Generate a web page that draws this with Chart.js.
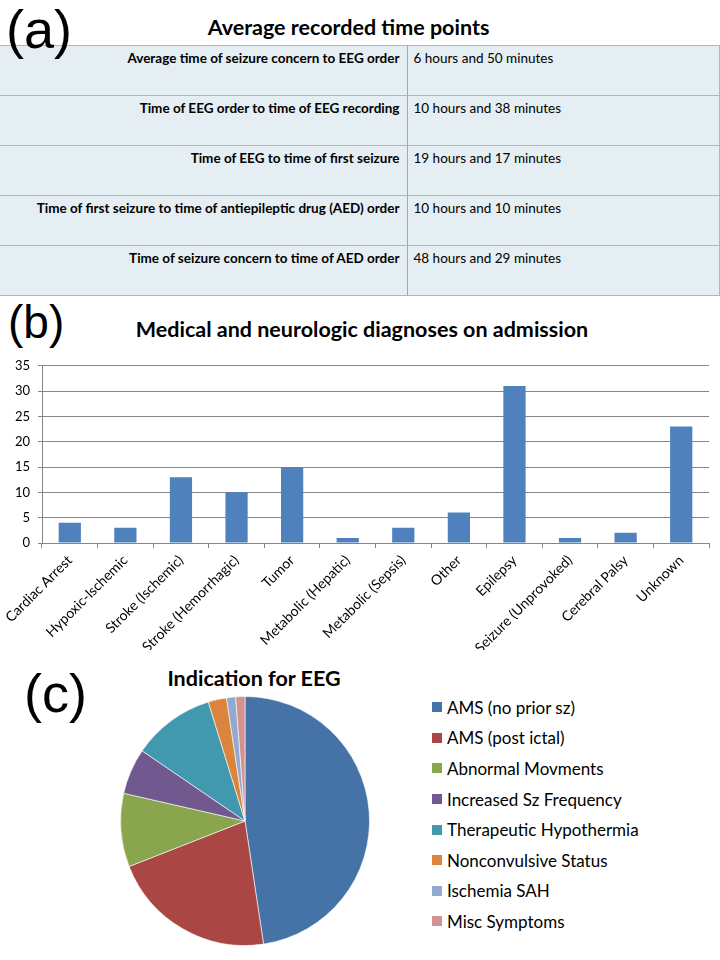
<!DOCTYPE html>
<html>
<head>
<meta charset="utf-8">
<script src="https://cdn.jsdelivr.net/npm/chart.js@4"></script>
<style>
  body { margin: 0; width: 720px; height: 960px; background: #fff; position: relative; overflow: hidden; font-family: Lato, "Open Sans", sans-serif; }
  .panel-tag { position: absolute; z-index: 2; font-family: "Liberation Sans", Arial, sans-serif; font-size: 54px; line-height: 54px; color: #000; }
  .title { position: absolute; font-family: Lato, sans-serif; font-weight: bold; font-size: 21.5px; color: #000; text-align: center; white-space: nowrap; }
  #times { position: absolute; left: 0; top: 45px; width: 719px; border-collapse: collapse; table-layout: fixed; }
  #times td { height: 45px; border-top: 1px solid #8fc2d7; border-bottom: 1px solid #8fc2d7; vertical-align: top; padding: 4px 0 0 0; white-space: nowrap; }
  #times tr:nth-child(odd) td { background: #e5eef2; }
  #times tr:nth-child(even) td { background: #d0e2ea; }
  #times td.lbl { text-align: right; padding-right: 7px; border-right: 1px solid #7fb6cc; font-family: Lato, sans-serif; font-weight: bold; font-size: 13.5px; }
  #times td.val { padding-left: 6px; font-family: Lato, sans-serif; font-size: 13.5px; border-right: 1px solid #8fc2d7; }
  #bars { position: absolute; left: 0; top: 350px; }
  #pie { position: absolute; left: 120px; top: 696px; }
  #legend { position: absolute; left: 432px; top: 692px; font-family: Lato, sans-serif; font-size: 17px; }
  #legend div { height: 30.6px; display: flex; align-items: center; white-space: nowrap; }
  #legend span.box { display: inline-block; width: 10px; height: 10px; margin-right: 5px; }
</style>
</head>
<body>
<div class="panel-tag" style="left:6px; top:2px;">(a)</div>
<div class="title" style="left:0; width:697px; top:14px;">Average recorded time points</div>
<table id="times"><colgroup><col style="width:407px"><col style="width:312px"></colgroup></table>

<div class="panel-tag" style="left:8px; top:299px; font-size:46px; line-height:46px;">(b)</div>
<div class="title" style="left:0; width:724px; top:316px;">Medical and neurologic diagnoses on admission</div>
<canvas id="bars" width="720" height="300"></canvas>

<div class="panel-tag" style="left:24px; top:666px;">(c)</div>
<div class="title" style="left:0; width:508px; top:665px;">Indication for EEG</div>
<canvas id="pie" width="250" height="250"></canvas>
<div id="legend"></div>

<script>
// (a) tabela de tempos
const timeLabels = [
  "Average time of seizure concern to EEG order",
  "Time of EEG order to time of EEG recording",
  "Time of EEG to time of first seizure",
  "Time of first seizure to time of antiepileptic drug (AED) order",
  "Time of seizure concern to time of AED order"
];
const timeValues = [
  "6 hours and 50 minutes",
  "10 hours and 38 minutes",
  "19 hours and 17 minutes",
  "10 hours and 10 minutes",
  "48 hours and 29 minutes"
];

// (b) diagnosticos
const diagnoses = ["Cardiac Arrest", "Hypoxic-Ischemic", "Stroke (Ischemic)", "Stroke (Hemorrhagic)", "Tumor",
  "Metabolic (Hepatic)", "Metabolic (Sepsis)", "Other", "Epilepsy", "Seizure (Unprovoked)", "Cerebral Palsy", "Unknown"];
const diagnosisCounts = [4, 3, 13, 10, 15, 1, 3, 6, 31, 1, 2, 23];

// (c) indicacao para EEG
const indications = ["AMS (no prior sz)", "AMS (post ictal)", "Abnormal Movments", "Increased Sz Frequency",
  "Therapeutic Hypothermia", "Nonconvulsive Status", "Ischemia SAH", "Misc Symptoms"];
const indicationCounts = [40, 18, 8, 5, 9, 2, 1, 1];
const pieColors = ["#4572a7", "#aa4643", "#89a54e", "#71588f", "#4198af", "#db843d", "#93a9cf", "#d19392"];

const table = document.getElementById("times");
timeLabels.forEach((lbl, i) => {
  table.innerHTML += `<tr><td class="lbl">${lbl}</td><td class="val">${timeValues[i]}</td></tr>`;
});

const gridGray = "#868686";

new Chart(document.getElementById("bars").getContext("2d"), {
  type: "bar",
  data: {
    labels: diagnoses,
    datasets: [{
      data: diagnosisCounts,
      backgroundColor: "#4f81bd",
      barPercentage: 0.4,
      categoryPercentage: 1.0
    }]
  },
  options: {
    responsive: false,
    animation: false,
    layout: { padding: { top: 11, right: 11, left: 0, bottom: 0 } },
    plugins: { legend: { display: false }, tooltip: { enabled: false } },
    scales: {
      x: {
        offset: true,
        grid: { offset: true, drawOnChartArea: false, color: gridGray, tickLength: 5 },
        border: { color: gridGray },
        ticks: { minRotation: 45, maxRotation: 45, padding: 4, color: "#000", font: { family: "Lato", size: 14 } },
        afterFit: (scale) => { scale.height = 107; }
      },
      y: {
        min: 0, max: 35,
        ticks: { stepSize: 5, padding: 8, color: "#000", font: { family: "Lato", size: 13 } },
        grid: { color: gridGray, tickLength: 4 },
        border: { color: gridGray },
        afterFit: (scale) => { scale.width = 42; }
      }
    }
  }
});

new Chart(document.getElementById("pie").getContext("2d"), {
  type: "pie",
  data: {
    labels: indications,
    datasets: [{
      data: indicationCounts,
      backgroundColor: pieColors,
      borderColor: "rgba(255,255,255,0.6)",
      borderWidth: 1
    }]
  },
  options: {
    responsive: false,
    animation: false,
    plugins: { legend: { display: false }, tooltip: { enabled: false } }
  }
});

const legend = document.getElementById("legend");
indications.forEach((name, i) => {
  legend.innerHTML += `<div><span class="box" style="background:${pieColors[i]}"></span>${name}</div>`;
});
</script>
</body>
</html>
